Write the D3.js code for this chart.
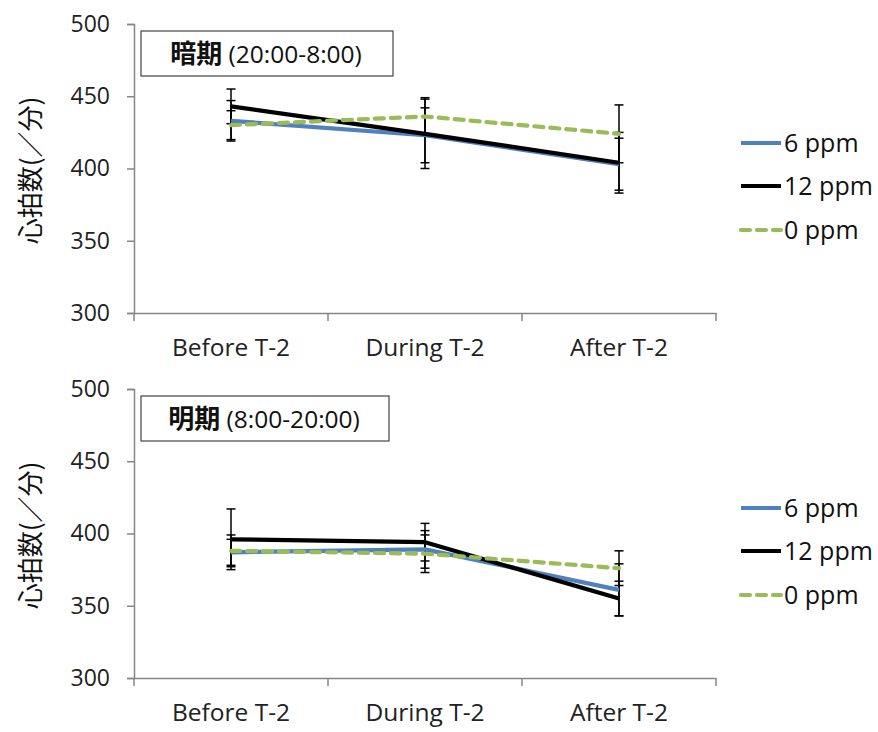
<!DOCTYPE html>
<html><head><meta charset="utf-8">
<script src="https://cdn.jsdelivr.net/npm/d3@7"></script>
<style>body{margin:0;background:#fff}svg{display:block}</style>
</head><body>
<svg id="c" width="878" height="732"></svg>
<script>
const categories = ["Before T-2", "During T-2", "After T-2"];
const seriesNames = ["6 ppm", "12 ppm", "0 ppm"];
const yTicks = [300, 350, 400, 450, 500];
// Dark period (暗期)
const dark6 = [433, 423, 403];
const dark12 = [443, 424, 404];
const dark0 = [430, 436, 424];
const darkErr6 = [14, 19, 18];
const darkErr12 = [12, 24, 21];
const darkErr0 = [10, 13, 20];
// Light period (明期)
const light6 = [387, 389, 361];
const light12 = [396, 394, 355];
const light0 = [388, 386, 376];
const lightErr6 = [9, 13, 18];
const lightErr12 = [21, 13, 12];
const lightErr0 = [11, 13, 12];

const panels = [
  {boldTitle: "暗期", title: " (20:00-8:00)", top: 24,
   series: [[dark6, darkErr6], [dark12, darkErr12], [dark0, darkErr0]]},
  {boldTitle: "明期", title: " (8:00-20:00)", top: 389,
   series: [[light6, lightErr6], [light12, lightErr12], [light0, lightErr0]]}
];
const styles = [
  {color: "#4F81BD", dash: null},
  {color: "#000000", dash: null},
  {color: "#9BBB59", dash: "9,7"}
];
const svg = d3.select("#c");
const latin = "'Open Sans','Noto Sans',sans-serif";
const cjk = "'Noto Sans CJK JP',sans-serif";

panels.forEach((p, pi) => {
  const left = 134, right = 716, h = 289;
  const g = svg.append("g").attr("transform", `translate(0,${p.top})`);
  const x = d3.scaleBand().domain(categories).range([left, right]);
  const y = d3.scaleLinear().domain([300, 500]).range([h, 0]);

  // y axis
  const ya = g.append("g").attr("transform", `translate(${left},0)`)
    .call(d3.axisLeft(y).tickValues(yTicks).tickSize(7).tickPadding(17));
  ya.select(".domain").attr("stroke", "#868686").attr("stroke-width", 1.5);
  ya.selectAll(".tick line").attr("stroke", "#868686").attr("stroke-width", 1.5);
  ya.selectAll("text").attr("font-family", latin).attr("font-size", 23).attr("fill", "#222");

  // x axis
  const xa = g.append("g").attr("transform", `translate(0,${h})`)
    .call(d3.axisBottom(x).tickSize(0).tickPadding(26));
  xa.select(".domain").attr("stroke", "#868686").attr("stroke-width", 1.5);
  xa.selectAll("text").attr("font-family", latin).attr("font-size", 24.5).attr("fill", "#222");
  const bounds = categories.map(c => x(c)).concat([right]);
  xa.selectAll(".sep").data(bounds).enter().append("line")
    .attr("x1", d => d).attr("x2", d => d).attr("y1", 0).attr("y2", 8)
    .attr("stroke", "#868686").attr("stroke-width", 1.5);

  const cx = c => x(c) + x.bandwidth() / 2;

  // error bars
  p.series.forEach(([vals, errs]) => {
    vals.forEach((v, i) => {
      const xx = cx(categories[i]);
      const y1 = y(v + errs[i]), y2 = y(v - errs[i]);
      g.append("line").attr("x1", xx).attr("x2", xx).attr("y1", y1).attr("y2", y2)
        .attr("stroke", "#000").attr("stroke-width", 1.5);
      [y1, y2].forEach(yy => g.append("line").attr("x1", xx - 4.5).attr("x2", xx + 4.5)
        .attr("y1", yy).attr("y2", yy).attr("stroke", "#000").attr("stroke-width", 1.5));
    });
  });

  // lines (draw order: 6, 12, 0)
  const line = d3.line().x((d, i) => cx(categories[i])).y(d => y(d));
  p.series.forEach(([vals], si) => {
    const s = styles[si];
    g.append("path").datum(vals).attr("d", line).attr("fill", "none")
      .attr("stroke", s.color).attr("stroke-width", 4.2)
      .attr("stroke-dasharray", s.dash).attr("stroke-linecap", s.dash ? "round" : "butt")
      .attr("stroke-linejoin", "round");
  });

  // title box
  g.append("rect").attr("x", 141).attr("y", 7).attr("width", pi === 0 ? 252 : 248).attr("height", 45)
    .attr("fill", "#fff").attr("stroke", "#444").attr("stroke-width", 1.2);
  const t = g.append("text").attr("x", pi === 0 ? 266 : 264).attr("y", 39).attr("text-anchor", "middle")
    .attr("font-size", 24.5).attr("fill", "#111").attr("xml:space", "preserve");
  t.append("tspan").attr("font-family", cjk).attr("font-weight", "bold").attr("font-size", 26).text(p.boldTitle);
  t.append("tspan").attr("font-family", latin).text(p.title);

  // y label
  g.append("text").attr("transform", `translate(40,${h / 2 + 2}) rotate(-90)`)
    .attr("text-anchor", "middle").attr("font-family", cjk).attr("font-size", 26)
    .attr("fill", "#111").text("心拍数(／分)");

  // legend
  const ly = [119, 162, 206];
  seriesNames.forEach((n, si) => {
    const s = styles[si];
    g.append("line").attr("x1", 741).attr("x2", 781).attr("y1", ly[si]).attr("y2", ly[si])
      .attr("stroke", s.color).attr("stroke-width", 4.2)
      .attr("stroke-dasharray", s.dash ? "9,7" : null).attr("stroke-linecap", s.dash ? "round" : "butt");
    g.append("text").attr("x", 784).attr("y", ly[si] + 9).attr("font-family", latin)
      .attr("font-size", 25).attr("fill", "#111").text(n);
  });
});
</script>
</body></html>
